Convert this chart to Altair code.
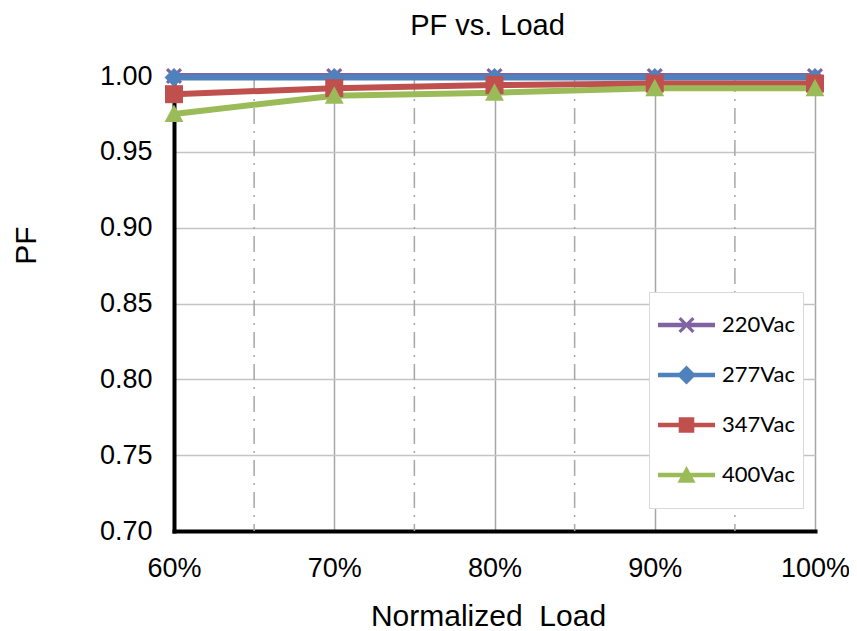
import altair as alt
import pandas as pd

# ---------------- data ----------------
loads = [60, 70, 80, 90, 100]
x_labels = ["60%", "70%", "80%", "90%", "100%"]
minor_loads = [65, 75, 85, 95]
y_ticks = [0.70, 0.75, 0.80, 0.85, 0.90, 0.95, 1.00]
series = ["220Vac", "277Vac", "347Vac", "400Vac"]
pf_220 = [1.000, 1.000, 1.000, 1.000, 1.000]
pf_277 = [0.999, 0.999, 0.999, 0.999, 0.999]
pf_347 = [0.988, 0.992, 0.994, 0.995, 0.995]
pf_400 = [0.975, 0.987, 0.989, 0.992, 0.992]
colors = ["#8064A2", "#4F81BD", "#C0504D", "#9BBB59"]

rows = []
for name, vals in zip(series, [pf_220, pf_277, pf_347, pf_400]):
    for l, v in zip(loads, vals):
        rows.append({"load": l, "series": name, "pf": v})
df = pd.DataFrame(rows)
minor_df = pd.DataFrame({"load": minor_loads})
legend_df = pd.DataFrame({"series": series})

# ---------------- marker shapes (style) ----------------
def poly(pts, cx=0.0, k=1.0):
    return "M" + "L".join(f"{cx + x * k:.3f},{y * k:.3f}" for x, y in pts) + "Z"

d = 0.28
X_PTS = [(-1, -1 + d), (-1 + d, -1), (0, -d), (1 - d, -1), (1, -1 + d), (d, 0),
         (1, 1 - d), (1 - d, 1), (0, d), (-1 + d, 1), (-1, 1 - d), (-d, 0)]
DIA_PTS = [(0, -1), (1, 0), (0, 1), (-1, 0)]
SQ_PTS = [(-1, -1), (1, -1), (1, 1), (-1, 1)]
TRI_PTS = [(0, -1), (1, 0.85), (-1, 0.85)]
marker_pts = [X_PTS, DIA_PTS, SQ_PTS, TRI_PTS]
plot_scale = [0.9, 1.05, 1.0, 1.05]
legend_scale = [0.8, 0.95, 0.78, 0.9]

plot_paths = [poly(p, 0, k) for p, k in zip(marker_pts, plot_scale)]

cx = 1.85
bar = poly([(-1, -0.22), (4.7, -0.22), (4.7, 0.22), (-1, 0.22)])
legend_paths = [f"M{cx},-2.5M{cx},2.5" + bar + poly(p, cx, k)
                for p, k in zip(marker_pts, legend_scale)]

x_label_expr = ("[" + ",".join(f"'{s}'" for s in x_labels) + "][indexof(["
                + ",".join(str(v) for v in loads) + "], datum.value)]")

FONT = "Liberation Sans"

x_scale = alt.Scale(domain=[60, 100], nice=False, zero=False)
y_scale = alt.Scale(domain=[0.70, 1.00], nice=False, zero=False)

x_axis = alt.Axis(values=loads, labelExpr=x_label_expr, grid=True, gridColor="#A6A6A6",
                  gridWidth=1.5, ticks=False, tickSize=0, domainColor="black", domainWidth=4,
                  domainCap="square", labelFont=FONT, labelFontSize=27, labelColor="black",
                  labelPadding=24, labelFlush=False,
                  title="Normalized\u00a0 Load", titleFont=FONT,
                  titleFontSize=30, titleFontWeight="normal", titleColor="black",
                  titleX=314, titleY=85, titleAlign="center", titleBaseline="middle")
y_axis = alt.Axis(values=y_ticks, format=".2f", grid=True, gridColor="#C4C4C4", gridWidth=1.5,
                  ticks=False, tickSize=0, domainColor="black", domainWidth=4, domainCap="square",
                  labelFont=FONT, labelFontSize=27, labelColor="black", labelPadding=22,
                  labelFlush=False,
                  title="PF", titleFont=FONT, titleFontSize=30, titleFontWeight="normal",
                  titleColor="black", titleX=-148, titleY=169, titleAlign="center",
                  titleBaseline="middle", titleAngle=270)

color_scale = alt.Scale(domain=series, range=colors)

minor = alt.Chart(minor_df).mark_rule(color="#A6A6A6", strokeWidth=1.5,
                                      strokeDash=[16, 7, 2, 7]).encode(
    x=alt.X("load:Q", scale=x_scale, axis=x_axis))

lines = alt.Chart(df).mark_line(strokeWidth=6, strokeJoin="round").encode(
    x=alt.X("load:Q", scale=x_scale, axis=x_axis),
    y=alt.Y("pf:Q", scale=y_scale, axis=y_axis),
    color=alt.Color("series:N", scale=color_scale, legend=None),
)

points = alt.Chart(df).mark_point(filled=True, opacity=1, size=324, strokeWidth=0).encode(
    x=alt.X("load:Q", scale=x_scale, axis=x_axis),
    y=alt.Y("pf:Q", scale=y_scale, axis=y_axis),
    color=alt.Color("series:N", scale=color_scale, legend=None),
    shape=alt.Shape("series:N", scale=alt.Scale(domain=series, range=plot_paths), legend=None),
)

legend = alt.Legend(
    title="\u00a0", titleFontSize=8, titlePadding=6, titleColor="white",
    orient="none", legendX=475, legendY=216,
    labelFont="Lato", labelFontSize=22, labelColor="black", labelOffset=43,
    symbolSize=400, symbolStrokeWidth=0, symbolOpacity=1, padding=8, rowPadding=0,
    strokeColor="#D9D9D9", fillColor="white",
)

legend_layer = alt.Chart(legend_df).mark_point(filled=True, opacity=0, size=400).encode(
    color=alt.Color("series:N", scale=color_scale, legend=legend),
    shape=alt.Shape("series:N", scale=alt.Scale(domain=series, range=legend_paths),
                    legend=legend),
)

chart = alt.layer(minor, lines, points, legend_layer).resolve_scale(
    color="independent", shape="independent"
).properties(
    width=641, height=455,
    autosize=alt.AutoSizeParams(type="none"),
    padding={"left": 166, "top": 68, "right": 34, "bottom": 100},
    title=alt.TitleParams("PF vs. Load", font=FONT, fontSize=29, fontWeight="normal",
                          color="black", anchor="middle", offset=21, dx=-7),
).configure_view(stroke=None).configure(background="white")

chart.save("out.html", embed_options={"renderer": "svg", "actions": False})
